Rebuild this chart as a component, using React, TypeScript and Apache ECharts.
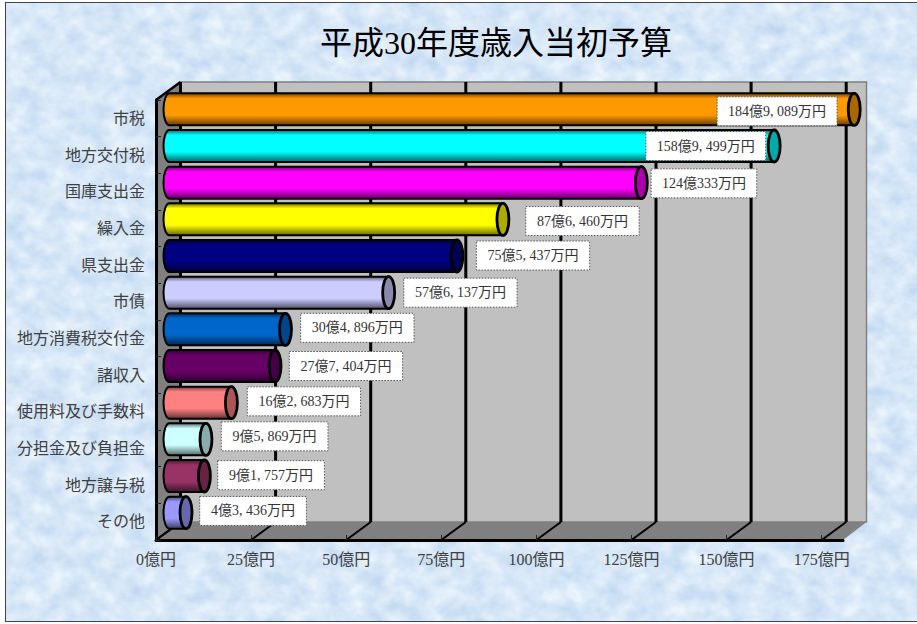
import React, { useEffect, useRef } from "react";
import * as echarts from "echarts";

const titleText = "平成30年度歳入当初予算";
const categories = ["市税", "地方交付税", "国庫支出金", "繰入金", "県支出金", "市債", "地方消費税交付金", "諸収入", "使用料及び手数料", "分担金及び負担金", "地方譲与税", "その他"];
// amounts in 万円
const amountsMan = [1849089, 1589499, 1240333, 876460, 755437, 576137, 304896, 277404, 162683, 95869, 91757, 43436];
const axisTicks = [0, 25, 50, 75, 100, 125, 150, 175];
const barColors = ["#FF9900", "#00FFFF", "#FF00FF", "#FFFF00", "#000080", "#CCCCFF", "#0066CC", "#660066", "#FF8080", "#CCFFFF", "#993366", "#9999FF"];
// label box placement relative to the end of each bar
const labelGapX = [-137.1, -128.3, 9.8, 22.9, 19.5, 15.1, 15.2, 14.3, 15.9, 15.3, 13.3, 13.7];
const labelGapY = [2, 0, 0.7, 1.7, -0.5, 0, -1.5, 0, -1.3, -3, -0.8, -1.7];

const AXIS_MAX = 180.6;
const DEPTH_X = 24.5;
const DEPTH_Y = 18;
const BAR_DX = 13.5;
const BAR_DY = 9;
const BAR_H = 32;
const CAP_RX = 6;
const FONT = '"Liberation Serif","Noto Sans CJK JP",serif';

function shade(hex: string, k: number) {
  const n = parseInt(hex.slice(1), 16);
  const f = (c: number) => Math.round(c * k);
  return `rgb(${f((n >> 16) & 255)},${f((n >> 8) & 255)},${f(n & 255)})`;
}

function amountText(man: number) {
  const oku = Math.floor(man / 10000);
  const rest = man % 10000;
  const s = rest >= 1000 ? `${Math.floor(rest / 1000)}, ${String(rest % 1000).padStart(3, "0")}` : `${rest}`;
  return `${oku}億${s}万円`;
}

function boxWidth(text: string) {
  const digits = (text.match(/\d/g) || []).length;
  const commas = (text.match(/,/g) || []).length;
  return 66 + 6.6 * digits + 7.7 * commas;
}

const noiseSvg = `<svg xmlns="http://www.w3.org/2000/svg" width="917" height="624"><filter id="n" x="0" y="0" width="100%" height="100%" color-interpolation-filters="sRGB"><feTurbulence type="fractalNoise" baseFrequency="0.05 0.06" numOctaves="3" seed="7"/><feColorMatrix values="0.24 0 0 0 0.723  0.16 0 0 0 0.826  0.06 0 0 0 0.939  0 0 0 0 1"/></filter><rect width="917" height="624" filter="url(#n)"/></svg>`;

export default function App() {
  const ref = useRef<HTMLDivElement>(null);
  useEffect(() => {
    document.body.style.margin = "0";
    const chart = echarts.init(ref.current!, undefined, { renderer: "svg" });
    const barData = amountsMan.map((m, i) => [m / 10000, i, m]);
    chart.setOption({
      animation: false,
      backgroundColor: "transparent",
      title: {
        text: titleText,
        left: 497 - 6,
        top: 22,
        textAlign: "center",
        textStyle: { fontFamily: FONT, fontSize: 32, fontWeight: "normal", color: "#000" },
      },
      grid: { left: 156, top: 100, width: 687, height: 440, containLabel: false },
      xAxis: {
        type: "value",
        min: 0,
        max: AXIS_MAX,
        interval: 25,
        z: 5,
        splitLine: { show: false },
        axisLine: { show: true, lineStyle: { color: "#000", width: 3 } },
        axisTick: { show: true, inside: true, length: 5, lineStyle: { color: "#222", width: 1 }, customValues: axisTicks },
        axisLabel: {
          customValues: axisTicks,
          formatter: (v: number) => `${v}億円`,
          margin: 11,
          fontFamily: FONT,
          fontSize: 16,
          color: "#404040",
        },
      },
      yAxis: {
        type: "category",
        inverse: true,
        data: categories,
        z: 5,
        axisLine: { show: true, lineStyle: { color: "#000", width: 3 } },
        axisTick: { show: true, inside: true, length: 5, lineStyle: { color: "#222", width: 1 } },
        axisLabel: { margin: 11, fontFamily: FONT, fontSize: 16, color: "#404040", interval: 0 },
      },
      series: [
        {
          type: "custom",
          coordinateSystem: "cartesian2d",
          z: 1,
          silent: true,
          data: [[0, 0]],
          encode: { x: 0, y: 1 },
          renderItem: (params: any) => {
            const c = params.coordSys;
            const L = c.x, T = c.y, R = c.x + c.width, B = c.y + c.height;
            return {
              type: "group",
              children: [
                { type: "rect", shape: { x: L + DEPTH_X, y: T - DEPTH_Y, width: c.width - 1, height: c.height }, style: { fill: "#C0C0C0", stroke: "#808080", lineWidth: 1.5 } },
                { type: "polygon", shape: { points: [[L, T], [L + DEPTH_X, T - DEPTH_Y], [L + DEPTH_X, B - DEPTH_Y], [L, B]] }, style: { fill: "#808080" } },
                { type: "polygon", shape: { points: [[L, B], [L + DEPTH_X, B - DEPTH_Y], [R + DEPTH_X - 1, B - DEPTH_Y], [R, B]] }, style: { fill: "#808080" } },
                { type: "line", shape: { x1: L, y1: T, x2: L + DEPTH_X, y2: T - DEPTH_Y }, style: { stroke: "#000", lineWidth: 2.5 } },
                { type: "line", shape: { x1: L, y1: B, x2: L + DEPTH_X, y2: B - DEPTH_Y }, style: { stroke: "#000", lineWidth: 2 } },
              ],
            };
          },
        },
        {
          type: "custom",
          coordinateSystem: "cartesian2d",
          z: 2,
          silent: true,
          data: axisTicks.map((t) => [t, 0]),
          encode: { x: 0, y: 1 },
          renderItem: (params: any, api: any) => {
            const c = params.coordSys;
            const x = api.coord([api.value(0), 0])[0];
            const T = c.y, B = c.y + c.height;
            return {
              type: "group",
              children: [
                { type: "line", shape: { x1: x + DEPTH_X, y1: T - DEPTH_Y, x2: x + DEPTH_X, y2: B - DEPTH_Y }, style: { stroke: "#000", lineWidth: 3 } },
                { type: "line", shape: { x1: x + DEPTH_X, y1: B - DEPTH_Y, x2: x, y2: B }, style: { stroke: "#000", lineWidth: 2 } },
              ],
            };
          },
        },
        {
          type: "custom",
          coordinateSystem: "cartesian2d",
          z: 3,
          silent: true,
          data: barData,
          encode: { x: 0, y: 1 },
          renderItem: (params: any, api: any) => {
            const i = api.value(1);
            const start = api.coord([0, i]);
            const end = api.coord([Math.min(api.value(0), AXIS_MAX - 0.6), i]);
            const x0 = start[0] + BAR_DX;
            const x1 = end[0] + BAR_DX;
            const y = start[1] - BAR_DY;
            const ry = BAR_H / 2;
            const col = barColors[i];
            const d = `M${x1},${y - ry} L${x0},${y - ry} A${CAP_RX},${ry} 0 0 0 ${x0},${y + ry} L${x1},${y + ry} Z`;
            return {
              type: "group",
              children: [
                {
                  type: "path",
                  shape: { pathData: d, layout: "cover", x: x0 - CAP_RX, y: y - ry, width: x1 - x0 + CAP_RX, height: BAR_H },
                  style: {
                    fill: new echarts.graphic.LinearGradient(0, 0, 0, 1, [
                      { offset: 0, color: shade(col, 0.45) },
                      { offset: 0.16, color: col },
                      { offset: 0.68, color: col },
                      { offset: 1, color: shade(col, 0.4) },
                    ]),
                    stroke: "#000",
                    lineWidth: 2,
                  },
                },
                {
                  type: "ellipse",
                  shape: { cx: x1, cy: y, rx: CAP_RX, ry },
                  style: { fill: shade(col, 0.67), stroke: "#000", lineWidth: 2.8 },
                },
              ],
            };
          },
        },
        {
          type: "custom",
          coordinateSystem: "cartesian2d",
          z: 4,
          silent: true,
          data: barData,
          encode: { x: 0, y: 1 },
          renderItem: (params: any, api: any) => {
            const i = api.value(1);
            const start = api.coord([0, i]);
            const end = api.coord([Math.min(api.value(0), AXIS_MAX - 0.6), i]);
            const text = amountText(api.value(2));
            const w = boxWidth(text);
            const left = end[0] + BAR_DX + labelGapX[i];
            const cy = start[1] - BAR_DY + labelGapY[i];
            return {
              type: "group",
              children: [
                {
                  type: "rect",
                  shape: { x: left, y: cy - 14.5, width: w, height: 29 },
                  style: { fill: "#fff", stroke: "#555", lineWidth: 1, lineDash: [1.5, 1.5] },
                },
                {
                  type: "text",
                  style: {
                    x: left + w / 2,
                    y: cy,
                    text,
                    fill: "#333",
                    font: `14px ${FONT}`,
                    align: "center",
                    verticalAlign: "middle",
                  },
                },
              ],
            };
          },
        },
      ],
    });
    return () => chart.dispose();
  }, []);

  return (
    <div style={{ position: "absolute", left: 0, top: 0, width: 917, height: 624, background: "#fff", overflow: "hidden" }}>
      <div
        style={{
          position: "absolute",
          left: 5,
          top: 2,
          width: 912,
          height: 620,
          boxSizing: "border-box",
          borderLeft: "1px solid #444",
          borderTop: "1px solid #444",
          borderBottom: "1px solid #444",
          backgroundImage: `url("data:image/svg+xml,${encodeURIComponent(noiseSvg)}")`,
        }}
      />
      <div ref={ref} style={{ position: "absolute", left: 0, top: 0, width: 917, height: 624 }} />
    </div>
  );
}
